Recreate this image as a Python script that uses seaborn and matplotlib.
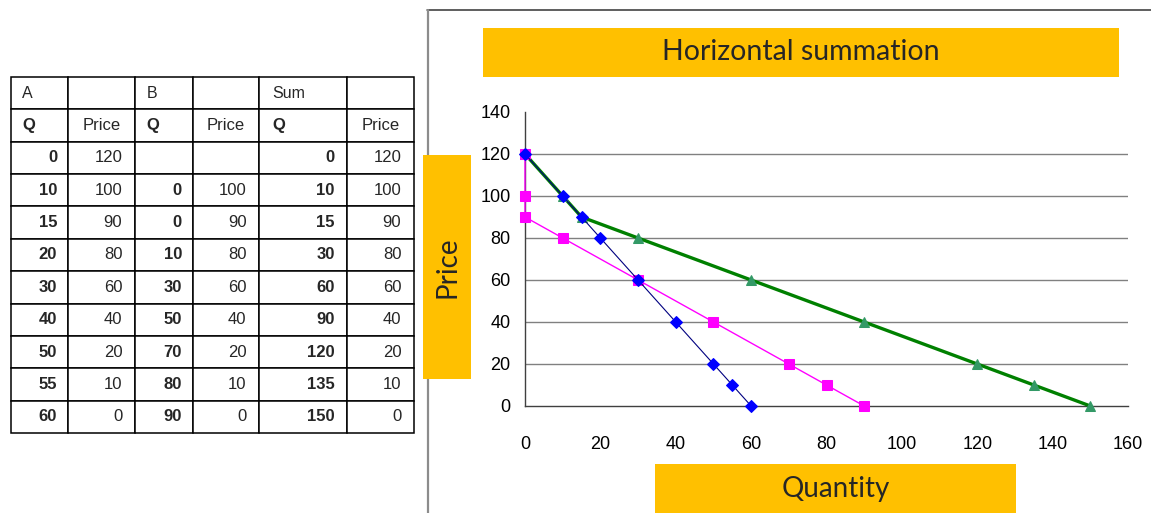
import matplotlib
matplotlib.use("Agg")
import matplotlib.pyplot as plt
from matplotlib.patches import Rectangle
from matplotlib.lines import Line2D
import seaborn as sns

# ---------------- data ----------------
price = [120, 100, 90, 80, 60, 40, 20, 10, 0]
q_a = [0, 10, 15, 20, 30, 40, 50, 55, 60]
q_b = [0, 0, 0, 10, 30, 50, 70, 80, 90]
q_sum = [0, 10, 15, 30, 60, 90, 120, 135, 150]
b_blank_rows = [0]          # rows where B is blank in the table
table_groups = ["A", "B", "Sum"]
title = "Horizontal summation"
x_label = "Quantity"
y_label = "Price"
x_ticks = [0, 20, 40, 60, 80, 100, 120, 140, 160]
y_ticks = [0, 20, 40, 60, 80, 100, 120, 140]

# ---------------- style ----------------
sns.set_style("white")
plt.rcParams["font.family"] = ["Liberation Sans", "DejaVu Sans"]

W, H = 1151, 513
fig = plt.figure(figsize=(W / 100, H / 100), dpi=100)


def fx(x):
    return x / W


def fy(y):
    return 1 - y / H


ORANGE = "#FFC000"

# frame lines of the chart area
fig.add_artist(Line2D([fx(427), 1.0], [fy(9.5), fy(9.5)], color="#333333", lw=1.1,
                      transform=fig.transFigure))
fig.add_artist(Line2D([fx(427.5), fx(427.5)], [fy(9.5), 0.0], color="#8c8c8c", lw=1.6,
                      transform=fig.transFigure))

# ---------------- chart ----------------
ax = fig.add_axes([fx(525), fy(406), (1128 - 525) / W, (406 - 112) / H])
ax.set_facecolor("none")

sns.lineplot(x=q_sum, y=price, sort=False, estimator=None, ax=ax, color="#008000",
             linewidth=2.4, marker="^", markersize=7.5, markerfacecolor="#339966",
             markeredgecolor="#339966", clip_on=False, zorder=3)
sns.lineplot(x=q_b, y=price, sort=False, estimator=None, ax=ax, color="#FF00FF",
             linewidth=1.0, marker="s", markersize=6.5, markerfacecolor="#FF00FF",
             markeredgecolor="#FF00FF", clip_on=False, zorder=4)
sns.lineplot(x=q_a, y=price, sort=False, estimator=None, ax=ax, color="#000080",
             linewidth=0.8, marker="D", markersize=6, markerfacecolor="#0000FF",
             markeredgecolor="#0000FF", clip_on=False, zorder=5)

ax.set_xlim(x_ticks[0], x_ticks[-1])
ax.set_ylim(y_ticks[0], y_ticks[-1])
ax.set_xticks(x_ticks)
ax.set_yticks(y_ticks)
ax.set_xlabel("")
ax.set_ylabel("")
for s in ["top", "right"]:
    ax.spines[s].set_visible(False)
for s in ["left", "bottom"]:
    ax.spines[s].set_color("#404040")
    ax.spines[s].set_linewidth(1.0)
ax.tick_params(axis="both", direction="out", colors="#404040", labelcolor="black",
               labelsize=13, width=1.0)
ax.tick_params(axis="y", length=4.5, pad=6)
ax.tick_params(axis="x", length=5.5, pad=16)
ax.yaxis.grid(True, color="#808080", lw=1.0)
ax.set_axisbelow(True)
gl = ax.yaxis.get_gridlines()
gl[0].set_visible(False)
gl[-1].set_visible(False)

# title / axis-label boxes
def box(x0, y0, x1, y1, text, rot=0, size=20):
    fig.add_artist(Rectangle((fx(x0), fy(y1)), fx(x1) - fx(x0), fy(y0) - fy(y1),
                             transform=fig.transFigure, facecolor=ORANGE,
                             edgecolor="none", zorder=6))
    fig.text(fx((x0 + x1) / 2), fy((y0 + y1) / 2), text, ha="center", va="center",
             rotation=rot, fontsize=size, family=["Lato", "DejaVu Sans"], zorder=7)

box(483, 28, 1119, 77, title, size=20.5)
box(655, 464, 1016, 513, x_label)
box(423, 155, 471, 379, y_label, rot=90)

# ---------------- table ----------------
ax_t = fig.add_axes([fx(11), fy(433), (414 - 11) / W, (433 - 77) / H])
ax_t.axis("off")

rows = [[table_groups[0], "", table_groups[1], "", table_groups[2], ""],
        ["Q", "Price", "Q", "Price", "Q", "Price"]]
for i in range(len(price)):
    if i in b_blank_rows:
        bq, bp = "", ""
    else:
        bq, bp = str(q_b[i]), str(price[i])
    rows.append([str(q_a[i]), str(price[i]), bq, bp, str(q_sum[i]), str(price[i])])

col_w = [57, 67, 58, 66, 88, 67]
tot = sum(col_w)
tbl = ax_t.table(cellText=rows, colWidths=[w / tot for w in col_w],
                 bbox=[0, 0, 1, 1], cellLoc="right")
tbl.auto_set_font_size(False)
tbl.set_fontsize(12)
for (r, c), cell in tbl.get_celld().items():
    cell.set_edgecolor("black")
    cell.set_linewidth(1.1)
    cell.PAD = 0.19
    txt = cell.get_text()
    if r == 0:
        cell._loc = "left"
        txt.set_ha("left")
        cell.PAD = 0.2
        txt.set_fontsize(11.5)
    elif r == 1:
        if c % 2 == 0:
            cell._loc = "left"
            txt.set_ha("left")
            cell.PAD = 0.2
            txt.set_fontweight("bold")
        else:
            cell._loc = "center"
            txt.set_ha("center")
    else:
        if c % 2 == 0:
            txt.set_fontweight("bold")
    if c == 4:
        cell.PAD = 0.14 if cell._loc == "right" else 0.15

fig.savefig("out.png", dpi=100)
